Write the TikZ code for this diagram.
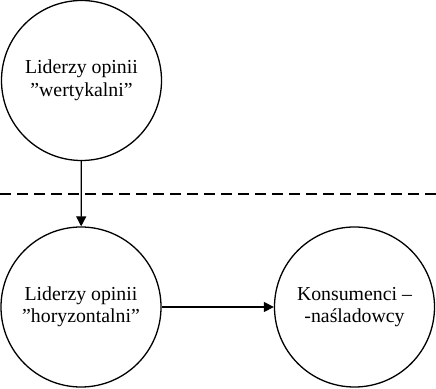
\documentclass[tikz,border=0pt]{standalone}
\usepackage{fontspec}
\setmainfont{Liberation Serif}
\usetikzlibrary{arrows.meta}
\begin{document}
\begin{tikzpicture}[x=1pt,y=1pt,
  circnode/.style={draw,line width=1.3pt,circle,minimum size=160pt,inner sep=0pt,align=center,
    font=\fontsize{19.8}{22.5}\selectfont},
  conn/.style={line width=1.3pt,-{Triangle[length=10pt,width=10pt]}}]
\useasboundingbox (0,0) rectangle (436,388);
\node[circnode] (top) at (81.5,307.5) {Liderzy opinii\\”wertykalni”};
\node[circnode] (hor) at (81,81) {Liderzy opinii\\”horyzontalni”};
\node[circnode] (kon) at (354.5,81) {Konsumenci –\\-naśladowcy};
\coordinate (dl) at (0,194);
\coordinate (dr) at (436,194);
\draw[line width=1.3pt,dash pattern=on 11pt off 6pt] (dl) -- (dr);
\draw[conn] (top) -- (hor);
\draw[conn] (hor) -- (kon);
\end{tikzpicture}
\end{document}
